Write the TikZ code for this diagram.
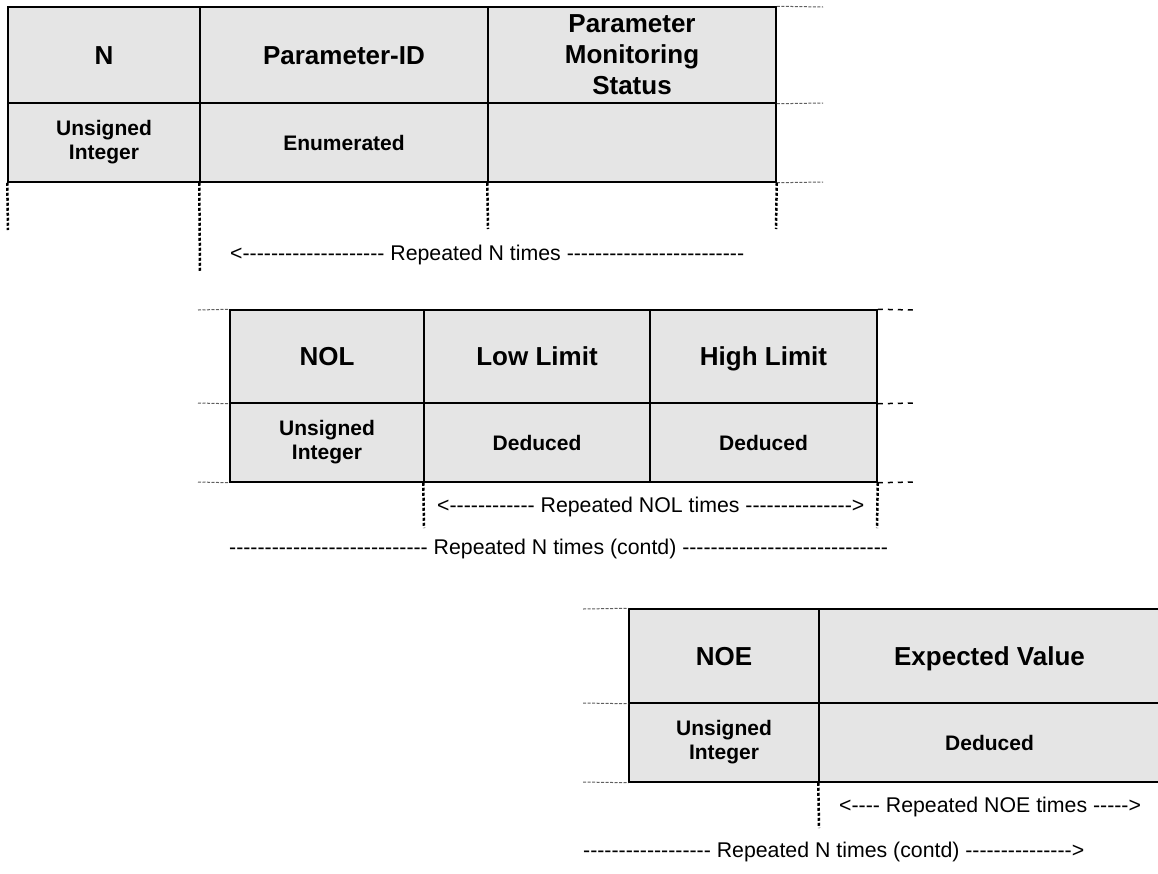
\documentclass[tikz,border=0pt]{standalone}
\usepackage{fontspec}
\setmainfont{Liberation Sans}
\definecolor{cellgray}{RGB}{229,229,229}
\definecolor{stubgray}{RGB}{95,95,95}
\begin{document}
\begin{tikzpicture}[x=1pt,y=-1pt,
  cell/.style={draw=black, line width=1.5pt, fill=cellgray, rectangle,
               inner sep=0pt, align=center},
  hdr/.style={cell, font=\fontsize{26}{31}\selectfont\bfseries},
  hdrone/.style={hdr, text height=18.6pt, text depth=0pt},
  typ/.style={cell, font=\fontsize{21}{24}\selectfont\bfseries},
  typone/.style={typ, text height=15pt, text depth=0pt},
  note/.style={anchor=west, inner sep=0pt, font=\fontsize{21.3}{24}\selectfont},
  vdots/.style={line width=2.5pt, dash pattern=on 3pt off 2pt},
  finestub/.style={line width=1pt, draw=stubgray, dash pattern=on 3pt off 1.5pt},
  widestub/.style={line width=1.5pt, dash pattern=on 5pt off 5pt}]
\useasboundingbox (0,0) rectangle (1158,873);

% ---- first record: N, Parameter-ID, Parameter Monitoring Status
\node[hdrone, minimum width=192pt, minimum height=96pt] (nH)  at (104,55)   {N};
\node[hdrone, minimum width=288pt, minimum height=96pt] (pidH) at (344,55)  {Parameter-ID};
\node[hdr, minimum width=288pt, minimum height=96pt] (pmsH) at (632,55)  {Parameter\\Monitoring\\Status};
\node[typ, minimum width=192pt, minimum height=79pt] (nT)  at (104,142.5) {Unsigned\\Integer};
\node[typone, minimum width=288pt, minimum height=79pt] (pidT) at (344,142.5) {Enumerated};
\node[typ, minimum width=288pt, minimum height=79pt] (pmsT) at (632,142.5) {};

\coordinate (r1a) at (823,7);
\coordinate (r1b) at (823,103);
\coordinate (r1c) at (823,182);
\draw[finestub] (pmsH.north east) -- (r1a);
\draw[finestub] (pmsH.south east) -- (r1b);
\draw[finestub] (pmsT.south east) -- (r1c);

\coordinate (d1a) at (8,230);
\coordinate (d1b) at (200,272);
\coordinate (d1c) at (488,229);
\coordinate (d1d) at (776,229);
\draw[vdots] (nT.south west) -- (d1a);
\draw[vdots] (pidT.south west) -- (d1b);
\draw[vdots] (pmsT.south west) -- (d1c);
\draw[vdots] (pmsT.south east) -- (d1d);

\node[note] (rep1) at (230,255) {<-{}-{}-{}-{}-{}-{}-{}-{}-{}-{}-{}-{}-{}-{}-{}-{}-{}-{}-{}- Repeated N times -{}-{}-{}-{}-{}-{}-{}-{}-{}-{}-{}-{}-{}-{}-{}-{}-{}-{}-{}-{}-{}-{}-{}-{}-};

% ---- limit block: NOL, Low Limit, High Limit
\node[hdrone, minimum width=194pt, minimum height=93pt] (nolH) at (327,356.5)   {NOL};
\node[hdrone, minimum width=226pt, minimum height=93pt] (lowH) at (537,356.5)   {Low Limit};
\node[hdrone, minimum width=227pt, minimum height=93pt] (highH) at (763.5,356.5) {High Limit};
\node[typ, minimum width=194pt, minimum height=79pt] (nolT) at (327,442.5)   {Unsigned\\Integer};
\node[typone, minimum width=226pt, minimum height=79pt] (lowT) at (537,442.5)   {Deduced};
\node[typone, minimum width=227pt, minimum height=79pt] (highT) at (763.5,442.5) {Deduced};

\coordinate (l2a) at (198,310);
\coordinate (l2b) at (198,403);
\coordinate (l2c) at (198,482);
\draw[finestub] (l2a) -- (nolH.north west);
\draw[finestub] (l2b) -- (nolH.south west);
\draw[finestub] (l2c) -- (nolT.south west);

\coordinate (r2a) at (913,310);
\coordinate (r2b) at (913,403);
\coordinate (r2c) at (913,482);
\draw[widestub] (highH.north east) -- (r2a);
\draw[widestub] (highH.south east) -- (r2b);
\draw[widestub] (highT.south east) -- (r2c);

\coordinate (d2a) at (424,528);
\coordinate (d2b) at (877,528);
\draw[vdots] (lowT.south west) -- (d2a);
\draw[vdots] (highT.south east) -- (d2b);

\node[note] (rep2) at (437,507) {<-{}-{}-{}-{}-{}-{}-{}-{}-{}-{}-{}- Repeated NOL times -{}-{}-{}-{}-{}-{}-{}-{}-{}-{}-{}-{}-{}-{}->};
\node[note] (rep3) at (229,549) {-{}-{}-{}-{}-{}-{}-{}-{}-{}-{}-{}-{}-{}-{}-{}-{}-{}-{}-{}-{}-{}-{}-{}-{}-{}-{}-{}- Repeated N times (contd) -{}-{}-{}-{}-{}-{}-{}-{}-{}-{}-{}-{}-{}-{}-{}-{}-{}-{}-{}-{}-{}-{}-{}-{}-{}-{}-{}-{}-};

% ---- expected value block: NOE, Expected Value
\node[hdrone, minimum width=190pt, minimum height=94pt] (noeH) at (724,656)    {NOE};
\node[hdrone, minimum width=341pt, minimum height=94pt] (expH) at (989.5,656)  {Expected Value};
\node[typ, minimum width=190pt, minimum height=79pt] (noeT) at (724,742.5)  {Unsigned\\Integer};
\node[typone, minimum width=341pt, minimum height=79pt] (expT) at (989.5,742.5) {Deduced};

\coordinate (l3a) at (583,609);
\coordinate (l3b) at (583,703);
\coordinate (l3c) at (583,782);
\draw[finestub] (l3a) -- (noeH.north west);
\draw[finestub] (l3b) -- (noeH.south west);
\draw[finestub] (l3c) -- (noeT.south west);

\coordinate (d3a) at (819,828);
\draw[vdots] (expT.south west) -- (d3a);

\node[note] (rep4) at (839,807) {<-{}-{}-{}- Repeated NOE times -{}-{}-{}-{}->};
\node[note] (rep5) at (583,852) {-{}-{}-{}-{}-{}-{}-{}-{}-{}-{}-{}-{}-{}-{}-{}-{}-{}- Repeated N times (contd) -{}-{}-{}-{}-{}-{}-{}-{}-{}-{}-{}-{}-{}-{}->};
\end{tikzpicture}
\end{document}
